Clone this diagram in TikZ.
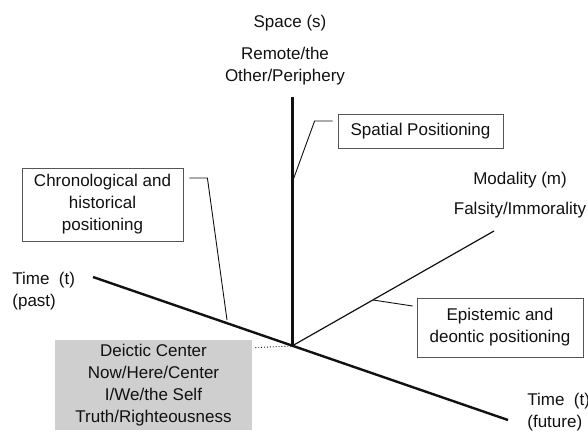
\documentclass[tikz,border=0pt]{standalone}
\usepackage{fontspec}
\setmainfont{Liberation Sans}
\usepackage{xcolor}
\usepackage{tikz}
\usetikzlibrary{calc}
\definecolor{ink}{HTML}{111111}
\definecolor{boxline}{HTML}{555555}
\definecolor{deicticfill}{HTML}{CFCFCF}
\tikzset{
  axislabel/.style={font=\fontsize{8.5}{11}\selectfont, text=ink, align=center, inner sep=0pt},
  posbox/.style={draw=boxline, line width=0.4pt, fill=white, align=center,
                 font=\fontsize{8.5}{11}\selectfont, text=ink, inner sep=0pt},
  leader/.style={draw=ink, line width=0.45pt}
}

\begin{document}
\begin{tikzpicture}[x=0.5pt, y=-0.5pt]
      \useasboundingbox (0,0) rectangle (588,434);
      % axes
      \coordinate (origin) at (292,346);
      \coordinate (spaceEnd) at (292,97);
      \coordinate (pastEnd) at (93,277);
      \coordinate (futureEnd) at (508,420);
      \coordinate (modalEnd) at (494,231);
      \draw[ink, line width=1.5pt] (origin) -- (spaceEnd);
      \draw[ink, line width=1.2pt] (pastEnd) -- (futureEnd);
      \draw[ink, line width=0.6pt] (origin) -- (modalEnd);

      % axis labels
      \node[axislabel] (spaceLbl) at (290,23) {Space (s)};
      \node[axislabel] (remoteLbl) at (285,66) {Remote/the\\Other/Periphery};
      \node[axislabel] (modalLbl) at (520,180) {Modality (m)};
      \node[axislabel] (falsityLbl) at (520,210) {Falsity/Immorality};
      \node[axislabel, align=left, anchor=west] (pastLbl) at (12,291) {Time~~(t)\\(past)};
      \node[axislabel, align=left, anchor=west] (futureLbl) at (527,412) {Time~~(t)\\(future)};

      % positioning boxes
      \node[posbox, minimum width=82.5pt, minimum height=17pt] (spatial) at (420.5,131) {Spatial Positioning};
      \node[posbox, minimum width=80.5pt, minimum height=36.5pt] (chrono) at (102.5,204.5) {Chronological and\\historical\\positioning};
      \node[posbox, minimum width=83pt, minimum height=29.5pt] (epist) at (500,327.5) {Epistemic and\\deontic positioning};
      \node[posbox, draw=none, fill=deicticfill, minimum width=98.5pt, minimum height=45pt] (deictic) at (153.5,385)
        {Deictic Center\\Now/Here/Center\\I/We/the Self\\Truth/Righteousness};

      % leaders
      \coordinate (spatialHit) at (292,183);
      \coordinate (chronoHit) at (227,320);
      \coordinate (epistHit) at (373,300);
      \draw[leader] ([xshift=-2.5pt,yshift=5pt]spatial.west) -- ++(-9pt,0) -- (spatialHit);
      \draw[leader] ([xshift=3pt,yshift=13.25pt]chrono.east) -- ++(9pt,0) -- (chronoHit);
      \draw[leader] ([xshift=-2pt,yshift=10.75pt]epist.west) -- (epistHit);
      \draw[leader, densely dotted] ([xshift=1.5pt,yshift=-4pt]deictic.north east) -- (origin);
    \end{tikzpicture}
\end{document}
